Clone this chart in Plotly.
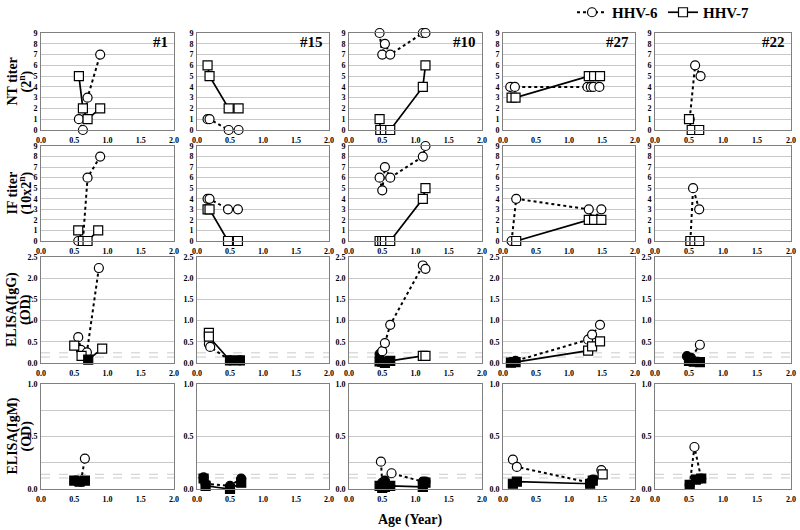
import plotly.graph_objects as go

# ---------------- data ----------------
PANELS = ["#1", "#15", "#10", "#27", "#22"]
ROW_TITLES_1 = ["NT titer", "IF titer", "ELISA(IgG)", "ELISA(IgM)"]
ROW_TITLES_2 = ["(2<sup>n</sup>)", "(10x2<sup>n</sup>)", "(OD)", "(OD)"]
SERIES = ["HHV-6", "HHV-7"]
X_TICKS = [0.0, 0.5, 1.0, 1.5, 2.0]
CUTOFF_IGG = [0.24, 0.14]   # HHV-6, HHV-7
CUTOFF_IGM = [0.14, 0.105]

# Patient #1
NT1_AGE6 = [0.57, 0.63, 0.70, 0.89];  NT1_H6 = [1, 0, 3, 7]
NT1_AGE7 = [0.57, 0.63, 0.70, 0.89];  NT1_H7 = [5, 2, 1, 2]
IF1_AGE6 = [0.56, 0.63, 0.70, 0.89];  IF1_H6 = [0, 0, 6, 8]
IF1_AGE7 = [0.56, 0.63, 0.70, 0.86];  IF1_H7 = [1, 0, 0, 1]
IGG1_AGE6 = [0.56, 0.60, 0.69, 0.87]; IGG1_H6 = [0.61, 0.31, 0.25, 2.24]
IGG1_AGE7 = [0.50, 0.61, 0.71, 0.92]; IGG1_H7 = [0.41, 0.17, 0.08, 0.34]
IGM1_AGE6 = [0.52, 0.60, 0.66];       IGM1_H6 = [0.08, 0.07, 0.29]
IGM1_AGE7 = [0.50, 0.58, 0.66];       IGM1_H7 = [0.08, 0.07, 0.08]

# Patient #15
NT15_AGE6 = [0.16, 0.19, 0.48, 0.63]; NT15_H6 = [1, 1, 0, 0]
NT15_AGE7 = [0.16, 0.19, 0.48, 0.63]; NT15_H7 = [6, 5, 2, 2]
IF15_AGE6 = [0.16, 0.19, 0.47, 0.62]; IF15_H6 = [4, 4, 3, 3]
IF15_AGE7 = [0.16, 0.19, 0.47, 0.62]; IF15_H7 = [3, 3, 0, 0]
IGG15_AGE6 = [0.18, 0.20, 0.50, 0.65]; IGG15_H6 = [0.45, 0.38, 0.06, 0.06]
IGG15_AGE7 = [0.18, 0.18, 0.50, 0.65]; IGG15_H7 = [0.71, 0.62, 0.06, 0.06]
IGM15_AGE6 = [0.10, 0.13, 0.50, 0.67]; IGM15_H6 = [0.11, 0.05, 0.03, 0.10]
IGM15_AGE7 = [0.10, 0.13, 0.50, 0.67]; IGM15_H7 = [0.10, 0.03, 0.00, 0.06]

# Patient #10
NT10_AGE6 = [0.46, 0.50, 0.54, 0.62, 1.11, 1.15]; NT10_H6 = [9, 7, 8, 7, 9, 9]
NT10_AGE7 = [0.46, 0.47, 0.54, 0.62, 1.11, 1.15]; NT10_H7 = [1, 0, 0, 0, 4, 6]
IF10_AGE6 = [0.46, 0.50, 0.54, 0.62, 1.11, 1.15]; IF10_H6 = [6, 4.8, 7, 6, 8, 9]
IF10_AGE7 = [0.46, 0.50, 0.54, 0.62, 1.11, 1.15]; IF10_H7 = [0, 0, 0, 0, 4, 5]
IGG10_AGE6 = [0.46, 0.50, 0.54, 0.62, 1.11, 1.15]; IGG10_H6 = [0.21, 0.28, 0.47, 0.90, 2.30, 2.22]
IGG10_AGE7 = [0.46, 0.50, 0.54, 0.62, 1.11, 1.15]; IGG10_H7 = [0.04, 0.03, 0.00, 0.05, 0.17, 0.17]
IGM10_AGE6 = [0.48, 0.50, 0.54, 0.64, 1.11, 1.15]; IGM10_H6 = [0.26, 0.06, 0.08, 0.15, 0.07, 0.07]
IGM10_AGE7 = [0.46, 0.50, 0.54, 0.62, 1.11, 1.15]; IGM10_H7 = [0.03, 0.01, 0.02, 0.03, 0.02, 0.06]

# Patient #27
NT27_AGE6 = [0.11, 0.18, 1.28, 1.33, 1.37, 1.46]; NT27_H6 = [4, 4, 4, 4, 4, 4]
NT27_AGE7 = [0.13, 0.19, 1.30, 1.38, 1.47];       NT27_H7 = [3, 3, 5, 5, 5]
IF27_AGE6 = [0.13, 0.20, 1.30, 1.36, 1.49];       IF27_H6 = [0, 4, 3, 2, 3]
IF27_AGE7 = [0.20, 1.30, 1.38, 1.49];             IF27_H7 = [0, 2, 2, 2]
IGG27_AGE6 = [0.12, 0.19, 1.29, 1.35, 1.47];      IGG27_H6 = [0.02, 0.05, 0.55, 0.67, 0.90]
IGG27_AGE7 = [0.12, 0.19, 1.29, 1.35, 1.47];      IGG27_H7 = [0.01, 0.02, 0.29, 0.39, 0.51]
IGM27_AGE6 = [0.15, 0.21, 1.32, 1.36, 1.49];      IGM27_H6 = [0.28, 0.21, 0.06, 0.09, 0.18]
IGM27_AGE7 = [0.15, 0.21, 1.32, 1.36, 1.51];      IGM27_H7 = [0.05, 0.07, 0.05, 0.08, 0.14]

# Patient #22
NT22_AGE6 = [0.51, 0.59, 0.67]; NT22_H6 = [1, 6, 5]
NT22_AGE7 = [0.50, 0.54, 0.65]; NT22_H7 = [1, 0, 0]
IF22_AGE6 = [0.52, 0.56, 0.65]; IF22_H6 = [0, 5, 3]
IF22_AGE7 = [0.52, 0.58, 0.65]; IF22_H7 = [0, 0, 0]
IGG22_AGE6 = [0.47, 0.53, 0.66]; IGG22_H6 = [0.16, 0.12, 0.43]
IGG22_AGE7 = [0.50, 0.57, 0.66]; IGG22_H7 = [0.05, 0.03, 0.02]
IGM22_AGE6 = [0.51, 0.58, 0.68]; IGM22_H6 = [0.04, 0.40, 0.10]
IGM22_AGE7 = [0.51, 0.60, 0.68]; IGM22_H7 = [0.04, 0.09, 0.10]

DATA = [  # rows: NT, IF, IgG, IgM ; columns: panels
    [(NT1_AGE6, NT1_H6, NT1_AGE7, NT1_H7), (NT15_AGE6, NT15_H6, NT15_AGE7, NT15_H7),
     (NT10_AGE6, NT10_H6, NT10_AGE7, NT10_H7), (NT27_AGE6, NT27_H6, NT27_AGE7, NT27_H7),
     (NT22_AGE6, NT22_H6, NT22_AGE7, NT22_H7)],
    [(IF1_AGE6, IF1_H6, IF1_AGE7, IF1_H7), (IF15_AGE6, IF15_H6, IF15_AGE7, IF15_H7),
     (IF10_AGE6, IF10_H6, IF10_AGE7, IF10_H7), (IF27_AGE6, IF27_H6, IF27_AGE7, IF27_H7),
     (IF22_AGE6, IF22_H6, IF22_AGE7, IF22_H7)],
    [(IGG1_AGE6, IGG1_H6, IGG1_AGE7, IGG1_H7), (IGG15_AGE6, IGG15_H6, IGG15_AGE7, IGG15_H7),
     (IGG10_AGE6, IGG10_H6, IGG10_AGE7, IGG10_H7), (IGG27_AGE6, IGG27_H6, IGG27_AGE7, IGG27_H7),
     (IGG22_AGE6, IGG22_H6, IGG22_AGE7, IGG22_H7)],
    [(IGM1_AGE6, IGM1_H6, IGM1_AGE7, IGM1_H7), (IGM15_AGE6, IGM15_H6, IGM15_AGE7, IGM15_H7),
     (IGM10_AGE6, IGM10_H6, IGM10_AGE7, IGM10_H7), (IGM27_AGE6, IGM27_H6, IGM27_AGE7, IGM27_H7),
     (IGM22_AGE6, IGM22_H6, IGM22_AGE7, IGM22_H7)],
]
CUTOFFS = [None, None, CUTOFF_IGG, CUTOFF_IGM]

# ---------------- layout ----------------
W, H = 800, 530
COLS_PX = [(41, 174), (197, 329), (349, 482), (503, 635), (655, 791)]
ROWS_PX = [(33, 130), (146, 241), (257, 363), (384, 489)]
FONT = "Liberation Serif"
AXCOL = "#7f7f7f"
GRID = "#c8c8c8"
TICKFONT = dict(size=8, family=FONT, color="black", weight="bold")


def fx(px):
    return px / W


def fy(py):
    return 1 - py / H


fig = go.Figure()
layout = dict(width=W, height=H, margin=dict(l=0, r=0, t=0, b=0, autoexpand=False),
              plot_bgcolor="white", paper_bgcolor="white", showlegend=True,
              font=dict(family=FONT, color="black"))
shapes, annotations = [], []

k = 0
for r in range(4):
    for c in range(5):
        k += 1
        xa = "xaxis" if k == 1 else f"xaxis{k}"
        ya = "yaxis" if k == 1 else f"yaxis{k}"
        xr = "x" if k == 1 else f"x{k}"
        yr = "y" if k == 1 else f"y{k}"
        x0, x1 = COLS_PX[c]
        t0, b0 = ROWS_PX[r]
        layout[xa] = dict(domain=[fx(x0), fx(x1)], anchor=yr, range=[0, 2],
                          tickvals=X_TICKS, tickformat=".1f", showgrid=False,
                          zeroline=False, showline=True, mirror=True, automargin=False,
                          linecolor=AXCOL, linewidth=1, ticks="", ticklabelstandoff=2,
                          tickfont=TICKFONT)
        ydict = dict(domain=[fy(b0), fy(t0)], anchor=xr, automargin=False,
                     zeroline=False, showline=True, mirror=True,
                     linecolor=AXCOL, linewidth=1, ticks="", gridcolor=GRID,
                     gridwidth=1, ticklabelstandoff=1, tickfont=TICKFONT)
        if r < 2:
            ydict.update(range=[0, 9], dtick=1, tickformat="d")
        elif r == 2:
            ydict.update(range=[0, 2.5], dtick=0.5, tickformat=".1f")
        else:
            ydict.update(range=[0, 1], dtick=0.5, tickformat=".1f",
                         minor=dict(dtick=0.25, showgrid=True, gridcolor=GRID))
        layout[ya] = ydict

        if CUTOFFS[r] is not None:
            for cv in CUTOFFS[r]:
                shapes.append(dict(type="line", xref=f"{xr} domain", yref=yr,
                                   x0=0, x1=1, y0=cv, y1=cv, layer="below",
                                   line=dict(color="#bdbdbd", width=0.8, dash="dash")))

        age6, v6, age7, v7 = DATA[r][c]
        for s, (ages, vals) in enumerate([(age6, v6), (age7, v7)]):
            if CUTOFFS[r] is None:
                fills = ["white"] * len(vals)
            else:
                fills = ["black" if v < CUTOFFS[r][s] else "white" for v in vals]
            fig.add_trace(go.Scatter(
                x=ages, y=vals, xaxis=xr, yaxis=yr, mode="lines+markers",
                name=SERIES[s], legendgroup=SERIES[s],
                showlegend=(k == 1),
                line=dict(color="black", width=2 if s == 0 else 1.7,
                          dash="dot" if s == 0 else "solid"),
                marker=dict(symbol="circle" if s == 0 else "square",
                            size=9, color=fills,
                            line=dict(color="black", width=1.2)),
                cliponaxis=False))

        if r == 0:
            annotations.append(dict(text=PANELS[c], x=fx(x1 - 4), y=fy(t0 + 9),
                                    xref="paper", yref="paper", xanchor="right",
                                    yanchor="middle", showarrow=False,
                                    font=dict(size=15, family=FONT, color="black", weight="bold")))
    t0, b0 = ROWS_PX[r]
    for txt, xpx in ((ROW_TITLES_1[r], 12), (ROW_TITLES_2[r], 26)):
        annotations.append(dict(text=txt, x=fx(xpx), y=fy((t0 + b0) / 2),
                                xref="paper", yref="paper", xanchor="center", yanchor="middle",
                                textangle=-90, showarrow=False,
                                font=dict(size=14, family=FONT, color="black", weight="bold")))

annotations.append(dict(text="Age (Year)", x=fx(410), y=fy(520), xref="paper",
                        yref="paper", xanchor="center", yanchor="middle", showarrow=False,
                        font=dict(size=14, family=FONT, color="black", weight="bold")))

layout["shapes"] = shapes
layout["annotations"] = annotations
layout["legend"] = dict(orientation="h", x=fx(572), y=fy(-4), xanchor="left",
                        yanchor="top", bgcolor="rgba(0,0,0,0)",
                        entrywidth=46, entrywidthmode="pixels",
                        font=dict(size=15, family=FONT, color="black", weight="bold"))
fig.update_layout(**layout)
fig.write_html("out.html", config={"displayModeBar": False},
               post_script="document.body.style.margin='0';")
